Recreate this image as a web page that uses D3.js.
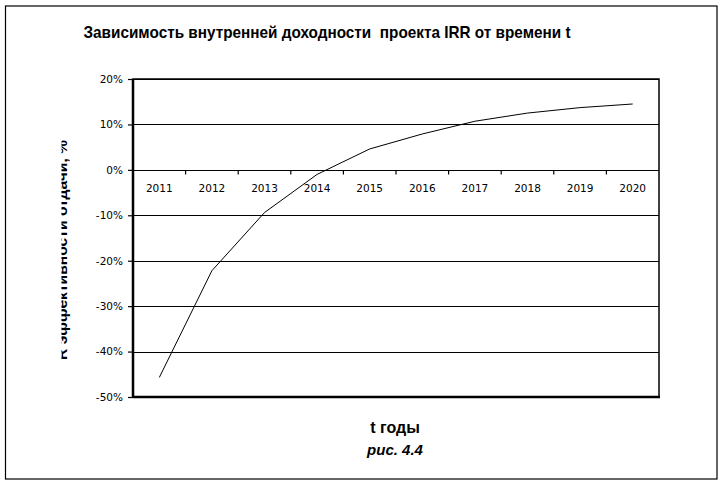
<!DOCTYPE html>
<html>
<head>
<meta charset="utf-8">
<script src="https://d3js.org/d3.v7.min.js"></script>
<style>
  html, body { margin: 0; padding: 0; background: #fff; }
  svg { display: block; font-family: "Liberation Sans", Arial, sans-serif; }
</style>
</head>
<body>
<svg id="chart" width="723" height="483"></svg>
<script>
// data
var years = ["2011", "2012", "2013", "2014", "2015", "2016", "2017", "2018", "2019", "2020"];
var irr = [-0.457, -0.222, -0.094, -0.010, 0.046, 0.079, 0.107, 0.125, 0.137, 0.145];
var yTicks = [0.2, 0.1, 0, -0.1, -0.2, -0.3, -0.4, -0.5];

var titleText = "Зависимость внутренней доходности  проекта IRR от времени t";
var yLabel = "R эффективности отдачи, %";
var xLabel = "t годы";
var caption = "рис. 4.4";

var svg = d3.select("#chart");
var plotL = 133, plotR = 659, plotT = 79, plotB = 397;

// outer frame
svg.append("rect")
  .attr("x", 5.5).attr("y", 6).attr("width", 711.5).attr("height", 473)
  .attr("fill", "none").attr("stroke", "#000").attr("stroke-width", 1.2);

var x = d3.scaleBand().domain(years).range([plotL, plotR]);
var y = d3.scaleLinear().domain([-0.5, 0.2]).range([plotB, plotT]);

// horizontal grid
svg.append("g").selectAll("line")
  .data(yTicks)
  .enter().append("line")
  .attr("x1", plotL).attr("x2", plotR)
  .attr("y1", d => Math.round(y(d)) + 0.5).attr("y2", d => Math.round(y(d)) + 0.5)
  .attr("stroke", "#000").attr("stroke-width", 1.2);

// plot border
svg.append("rect")
  .attr("x", plotL).attr("y", plotT).attr("width", plotR - plotL).attr("height", plotB - plotT)
  .attr("fill", "none").attr("stroke", "#000").attr("stroke-width", 1.5);
svg.append("line")
  .attr("x1", plotL).attr("x2", plotL).attr("y1", plotT).attr("y2", plotB + 1)
  .attr("stroke", "#000").attr("stroke-width", 2.5);
svg.append("line")
  .attr("x1", plotL).attr("x2", plotR + 1).attr("y1", plotB).attr("y2", plotB)
  .attr("stroke", "#000").attr("stroke-width", 2.5);

// y axis (plain hyphen for minus, like the original)
var pct = d => Math.round(d * 100) + "%";
var yAxis = d3.axisLeft(y).tickValues(yTicks).tickFormat(pct).tickSize(5).tickPadding(5);
var ga = svg.append("g").attr("transform", "translate(" + plotL + ",0)").call(yAxis);
ga.select(".domain").remove();
ga.selectAll("line").attr("stroke-width", 1.2);
ga.selectAll("text").attr("fill", "#000")
  .attr("font-family", "'DejaVu Sans', sans-serif").attr("font-size", 10.5);

// x axis on zero line, ticks between categories
var zeroY = Math.round(y(0)) + 0.5;
var gx = svg.append("g").attr("transform", "translate(0," + zeroY + ")");
gx.selectAll("line")
  .data(years.slice(1))
  .enter().append("line")
  .attr("x1", d => x(d)).attr("x2", d => x(d))
  .attr("y1", 0).attr("y2", 4)
  .attr("stroke", "#000").attr("stroke-width", 1.2);
gx.selectAll("text")
  .data(years)
  .enter().append("text")
  .attr("x", d => x(d) + x.bandwidth() / 2)
  .attr("y", 21)
  .attr("text-anchor", "middle")
  .attr("font-family", "'DejaVu Sans', sans-serif")
  .attr("font-size", 10.5)
  .text(d => d);

// IRR line
var line = d3.line()
  .x((d, i) => x(years[i]) + x.bandwidth() / 2)
  .y(d => y(d));
svg.append("path")
  .datum(irr)
  .attr("d", line)
  .attr("fill", "none")
  .attr("stroke", "#000")
  .attr("stroke-width", 1);

// title
svg.append("text")
  .attr("x", 327).attr("y", 38)
  .attr("text-anchor", "middle")
  .style("white-space", "pre")
  .attr("font-size", 17).attr("font-weight", "bold")
  .attr("textLength", 487).attr("lengthAdjust", "spacingAndGlyphs")
  .text(titleText);

// y label, partially clipped as in the original
svg.append("clipPath").attr("id", "ylclip")
  .append("rect").attr("x", 61.5).attr("y", 100).attr("width", 20).attr("height", 300);
svg.append("g")
  .attr("clip-path", "url(#ylclip)")
  .append("text")
  .attr("transform", "translate(67,250) rotate(-90)")
  .attr("text-anchor", "middle")
  .attr("font-size", 14).attr("font-weight", "bold")
  .attr("textLength", 220).attr("lengthAdjust", "spacingAndGlyphs")
  .text(yLabel);

// x label and caption
svg.append("text")
  .attr("x", 395).attr("y", 433)
  .attr("text-anchor", "middle")
  .attr("font-size", 16).attr("font-weight", "bold")
  .text(xLabel);
svg.append("text")
  .attr("x", 395).attr("y", 455)
  .attr("text-anchor", "middle")
  .attr("font-size", 15).attr("font-weight", "bold").attr("font-style", "italic")
  .text(caption);
</script>
</body>
</html>
